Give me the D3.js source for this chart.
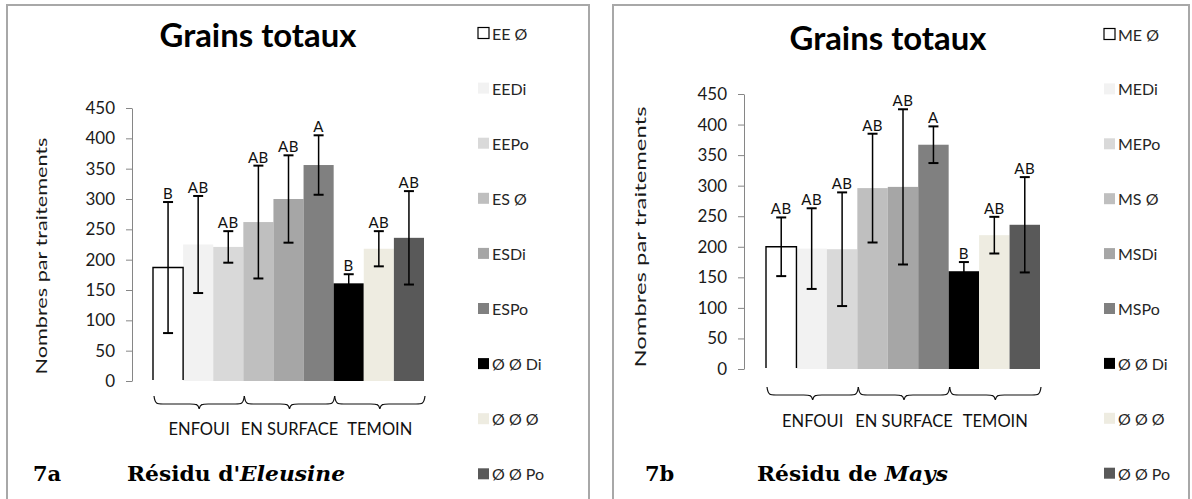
<!DOCTYPE html>
<html>
<head>
<meta charset="utf-8">
<script src="https://cdn.jsdelivr.net/npm/d3@7"></script>
<style>
  body { margin: 0; background: #fff; }
  svg { display: block; font-family: Lato, "Open Sans", sans-serif; }
</style>
</head>
<body>
<svg id="chart" width="1192" height="499"></svg>
<script>
// Grains totaux - two panels (7a Eleusine, 7b Mays)

const yTicks = [0, 50, 100, 150, 200, 250, 300, 350, 400, 450];
const groups = ['ENFOUI', 'EN SURFACE', 'TEMOIN'];

const seriesLeft = ['EE Ø', 'EEDi', 'EEPo', 'ES Ø', 'ESDi', 'ESPo', 'Ø Ø Di', 'Ø Ø Ø', 'Ø Ø Po'];
const meansLeft = [187, 225, 221, 262, 300, 356, 161, 218, 236];
const errLeft = [108, 80, 26, 93, 72, 49, 15, 29, 77];
const lettersLeft = ['B', 'AB', 'AB', 'AB', 'AB', 'A', 'B', 'AB', 'AB'];

const seriesRight = ['ME Ø', 'MEDi', 'MEPo', 'MS Ø', 'MSDi', 'MSPo', 'Ø Ø Di', 'Ø Ø Ø', 'Ø Ø Po'];
const meansRight = [200, 197, 196, 296, 298, 367, 160, 219, 236];
const errRight = [48, 66, 93, 89, 127, 30, 15, 30, 78];
const lettersRight = ['AB', 'AB', 'AB', 'AB', 'AB', 'A', 'B', 'AB', 'AB'];

const COLORS = ['#ffffff', '#f2f2f2', '#d9d9d9', '#bfbfbf', '#a6a6a6', '#808080', '#000000', '#eeece1', '#595959'];

const panels = [
  {
    series: seriesLeft, means: meansLeft, errs: errLeft, letters: lettersLeft,
    fig: '7a', res: "Résidu d'", resIt: 'Eleusine',
    frame: [7, 5, 589], axisX: 132, y0: 381, yTop: 108, bars: [153, 424],
    title: [258, 47], legend: [478, 33, 55.1], ylab: [41, 256, 237],
    braceY: 396, catY: 435, figX: 33, resX: 127, resW: 218
  },
  {
    series: seriesRight, means: meansRight, errs: errRight, letters: lettersRight,
    fig: '7b', res: 'Résidu de ', resIt: 'Mays',
    frame: [613, 5, 1189], axisX: 744, y0: 369, yTop: 94, bars: [766, 1040],
    title: [888, 50], legend: [1104, 34, 54.9], ylab: [640, 237, 261],
    braceY: 387, catY: 427, figX: 645, resX: 757, resW: 191
  }
];

const svg = d3.select('#chart');

function bracePath(x0, x1, top) {
  const mid = (x0 + x1) / 2, h = 8, tip = 5, r = 9;
  return `M${x0},${top} C${x0 + 1},${top + h} ${x0 + 3},${top + h} ${x0 + r},${top + h}` +
    ` L${mid - r},${top + h} C${mid - 3},${top + h} ${mid - 1},${top + h} ${mid},${top + h + tip}` +
    ` C${mid + 1},${top + h} ${mid + 3},${top + h} ${mid + r},${top + h}` +
    ` L${x1 - r},${top + h} C${x1 - 3},${top + h} ${x1 - 1},${top + h} ${x1},${top}`;
}

panels.forEach(p => {
  const g = svg.append('g');

  // frame
  g.append('path')
    .attr('d', `M${p.frame[0]},510 V${p.frame[1]} H${p.frame[2]} V510`)
    .attr('fill', 'none').attr('stroke', '#a8a8a8').attr('stroke-width', 2);

  const y = d3.scaleLinear().domain([0, 450]).range([p.y0, p.yTop]);
  const x = d3.scaleBand().domain(p.series).range(p.bars).padding(0);
  const bw = x.bandwidth();

  // y axis
  const ax = g.append('g')
    .attr('transform', `translate(${p.axisX},0)`)
    .call(d3.axisLeft(y).tickValues(yTicks).tickSize(6).tickSizeOuter(0).tickPadding(11));
  ax.select('.domain').attr('stroke', '#868686');
  ax.selectAll('.tick line').attr('stroke', '#868686');
  ax.selectAll('.tick text').attr('fill', '#1a1a1a').attr('font-size', '17px')
    .attr('font-family', 'Lato, "Open Sans", sans-serif');

  // bars
  g.append('g').selectAll('rect').data(p.series).join('rect')
    .attr('x', d => x(d)).attr('y', (d, i) => y(p.means[i]))
    .attr('width', bw).attr('height', (d, i) => y(0) - y(p.means[i]))
    .attr('fill', (d, i) => COLORS[i]);
  // outline of the white bar (no bottom edge)
  const s0 = p.series[0];
  g.append('path')
    .attr('d', `M${x(s0)},${y(0) - 1} V${y(p.means[0])} H${x(s0) + bw} V${y(0) - 1}`)
    .attr('fill', 'none').attr('stroke', '#000').attr('stroke-width', 1.4);

  // error bars
  const eb = g.append('g').attr('stroke', '#000');
  p.series.forEach((s, i) => {
    const cx = x(s) + bw / 2;
    const hi = y(p.means[i] + p.errs[i]);
    const lo = y(p.means[i] - p.errs[i]);
    eb.append('line').attr('x1', cx).attr('x2', cx).attr('y1', hi).attr('y2', lo).attr('stroke-width', 1.5);
    eb.append('line').attr('x1', cx - 5).attr('x2', cx + 5).attr('y1', hi).attr('y2', hi).attr('stroke-width', 2);
    eb.append('line').attr('x1', cx - 5).attr('x2', cx + 5).attr('y1', lo).attr('y2', lo).attr('stroke-width', 2);
    g.append('text').attr('x', cx).attr('y', hi - 3)
      .attr('text-anchor', 'middle').attr('font-size', '15px').attr('fill', '#111')
      .attr('letter-spacing', '0.5px')
      .text(p.letters[i]);
  });

  // braces and group labels
  groups.forEach((grp, k) => {
    const x0 = x(p.series[k * 3]) + 1;
    const x1 = x(p.series[k * 3 + 2]) + bw + 1;
    g.append('path').attr('d', bracePath(x0, x1, p.braceY))
      .attr('fill', 'none').attr('stroke', '#111').attr('stroke-width', 1.2);
    g.append('text').attr('x', (x0 + x1) / 2).attr('y', p.catY)
      .attr('text-anchor', 'middle').attr('font-size', '16.5px').attr('fill', '#111')
      .text(grp);
  });

  // title
  g.append('text').attr('x', p.title[0]).attr('y', p.title[1])
    .attr('text-anchor', 'middle').attr('font-size', '32px').attr('font-weight', 'bold')
    .attr('fill', '#000').attr('textLength', 197).attr('lengthAdjust', 'spacingAndGlyphs')
    .text('Grains totaux');

  // y axis label
  g.append('text')
    .attr('transform', `translate(${p.ylab[0]},${p.ylab[1]}) rotate(-90)`)
    .attr('text-anchor', 'middle').attr('dominant-baseline', 'central')
    .attr('font-size', '15px').attr('fill', '#1a1a1a')
    .attr('textLength', p.ylab[2]).attr('lengthAdjust', 'spacingAndGlyphs')
    .text('Nombres par traitements');

  // legend
  const lg = g.append('g');
  p.series.forEach((s, i) => {
    const cy = p.legend[1] + i * p.legend[2];
    lg.append('rect').attr('x', p.legend[0]).attr('y', cy - 5.5).attr('width', 11).attr('height', 11)
      .attr('fill', COLORS[i]).attr('stroke', i === 0 ? '#000' : 'none').attr('stroke-width', 1.2);
    lg.append('text').attr('x', p.legend[0] + 14).attr('y', cy)
      .attr('dominant-baseline', 'central').attr('font-size', '16px').attr('fill', '#262626')
      .text(s);
  });

  // figure caption
  g.append('text').attr('x', p.figX).attr('y', 481)
    .attr('font-family', '"DejaVu Serif", serif').attr('font-weight', 'bold')
    .attr('font-size', '21px').attr('fill', '#000').text(p.fig);
  const cap = g.append('text').attr('x', p.resX).attr('y', 481)
    .attr('font-family', '"DejaVu Serif", serif').attr('font-weight', 'bold')
    .attr('font-size', '21px').attr('fill', '#000')
    .attr('textLength', p.resW).attr('lengthAdjust', 'spacingAndGlyphs');
  cap.append('tspan').text(p.res);
  cap.append('tspan').attr('font-style', 'italic').text(p.resIt);
});
</script>
</body>
</html>
